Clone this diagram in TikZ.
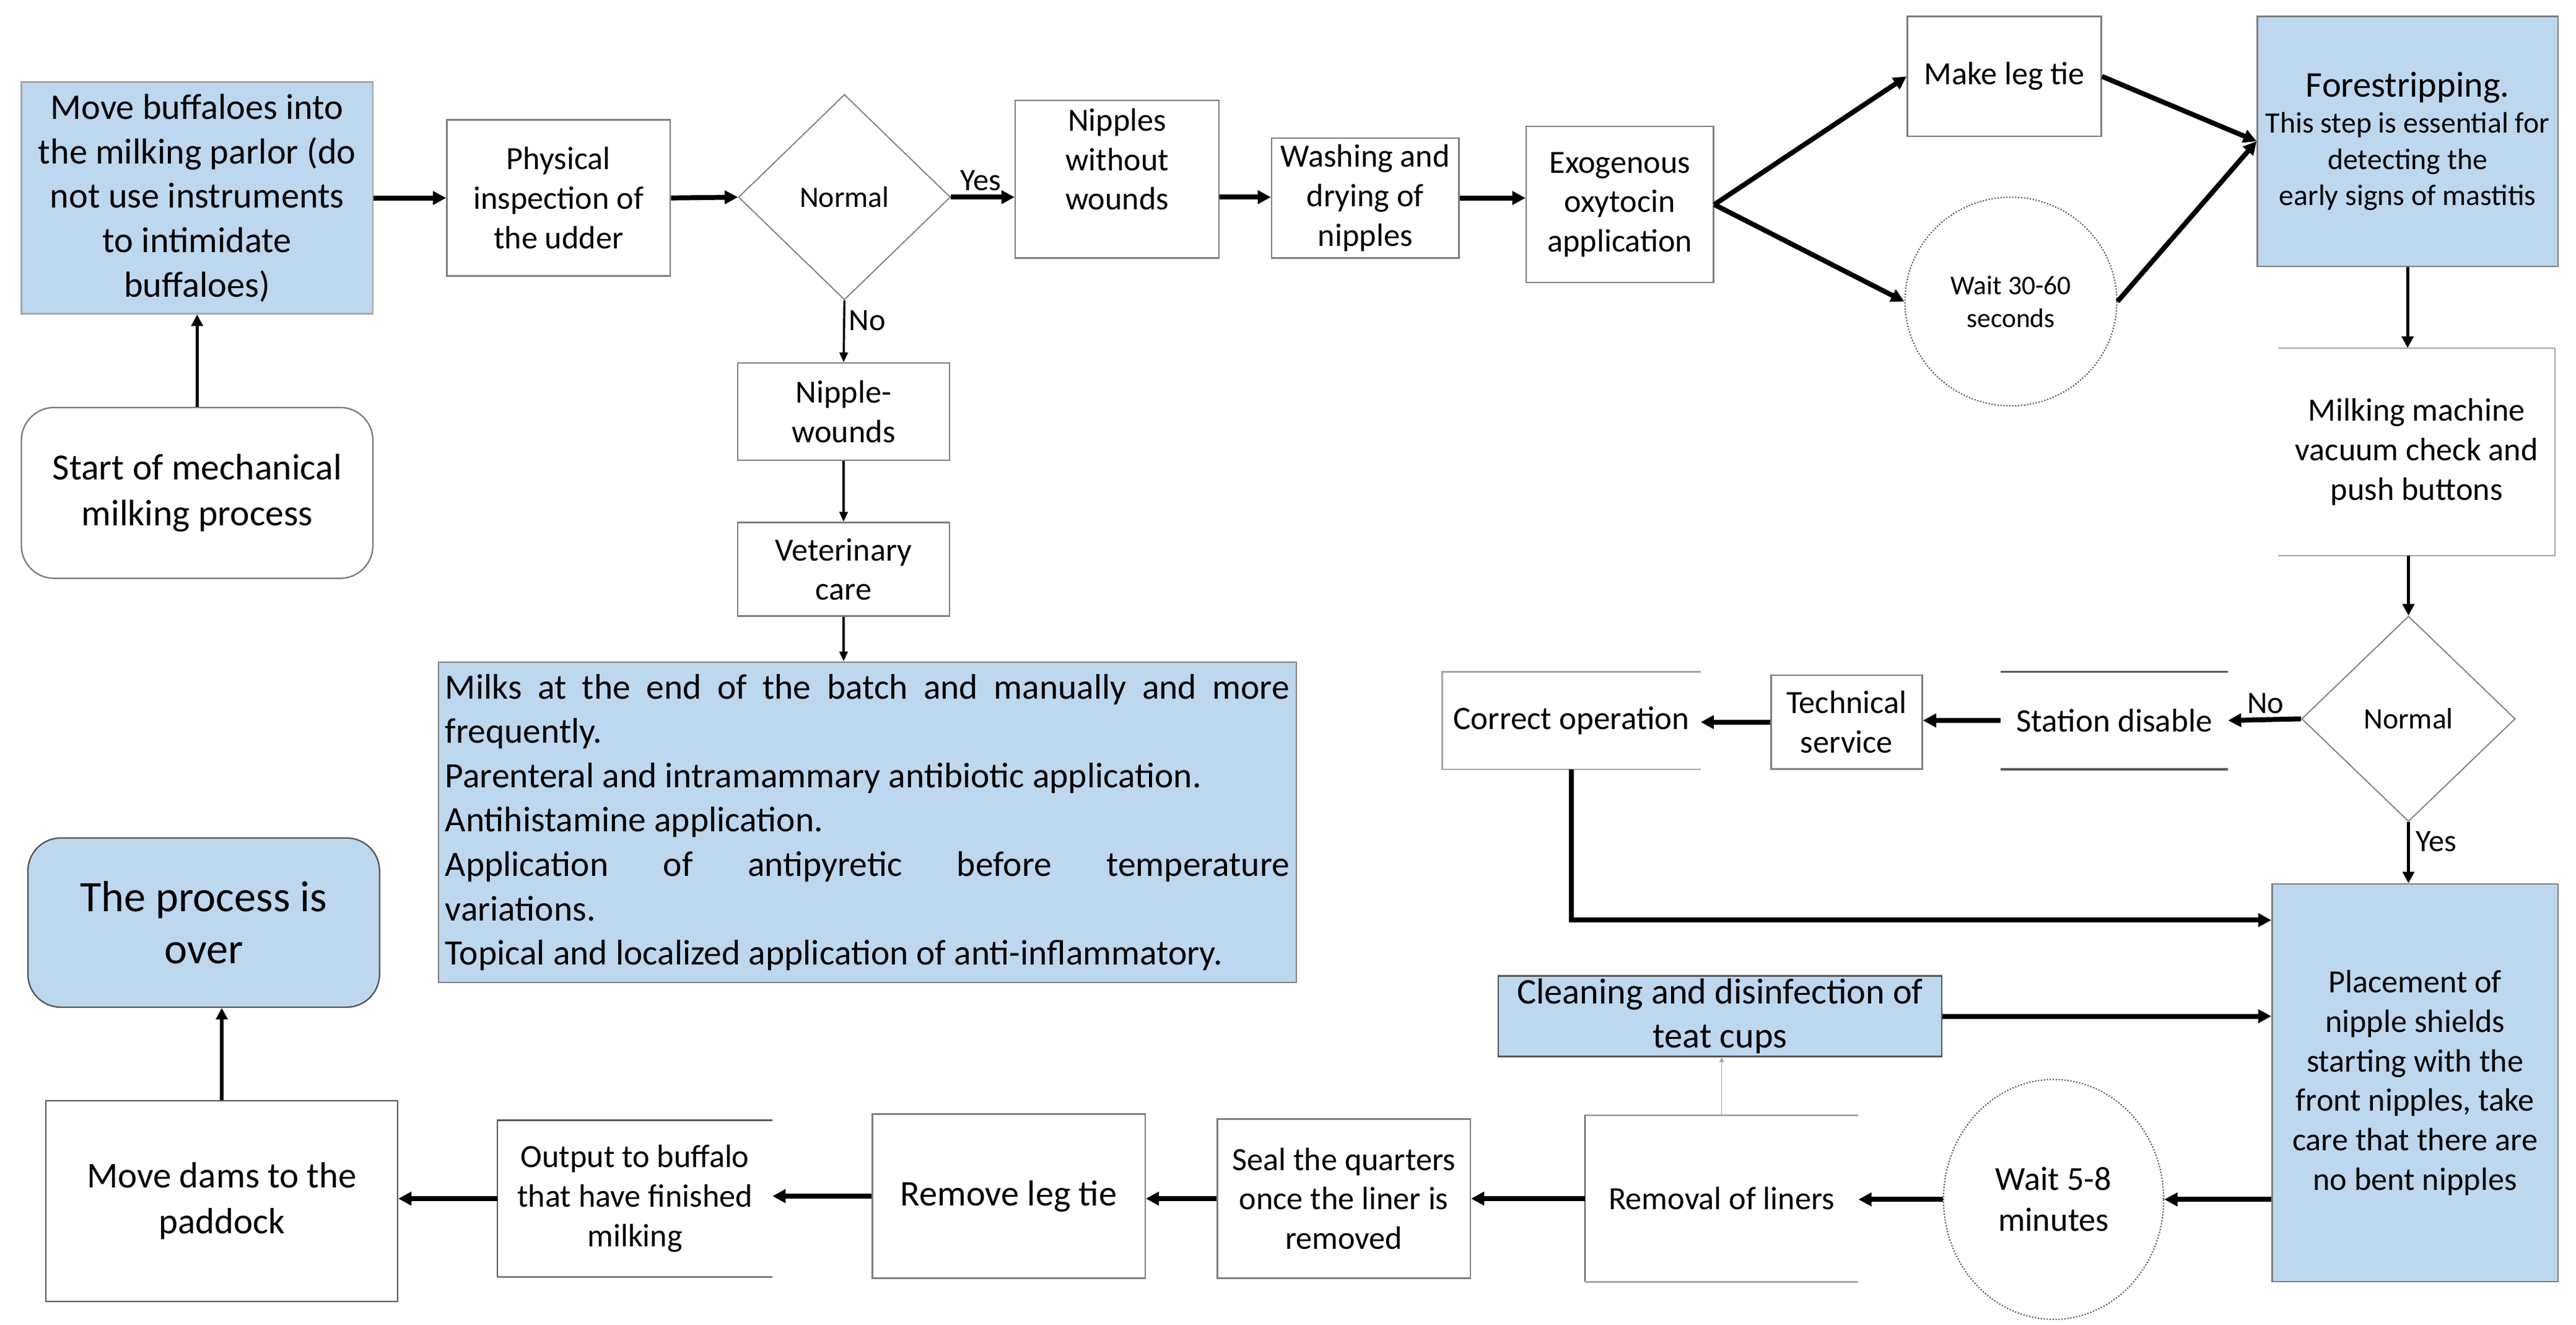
\documentclass[tikz,border=0pt]{standalone}
\usepackage{fontspec}
\setmainfont{Carlito}
\usetikzlibrary{arrows.meta,shapes.geometric,calc}
\definecolor{lblue}{HTML}{BDD7EE}
\definecolor{bdark}{HTML}{595959}
\definecolor{bmid}{HTML}{7F7F7F}
\definecolor{blight}{HTML}{A6A6A6}
\setlength{\parindent}{0pt}
\begin{document}
\begin{tikzpicture}[x=1pt,y=-1pt,
  box/.style={draw=bmid, line width=0.9pt, inner sep=0pt, align=center, font=\fontsize{19.7}{24}\selectfont},
  bare/.style={inner sep=0pt, align=center, font=\fontsize{19.7}{24}\selectfont},
  txt/.style={inner sep=0pt, align=center, font=\fontsize{19.7}{24}\selectfont},
  blue/.style={fill=lblue},
  dia/.style={diamond, draw=bmid, line width=0.7pt, inner sep=0pt, font=\fontsize{18}{22}\selectfont},
  oval/.style={ellipse, draw=bdark, densely dotted, line width=0.8pt, inner sep=0pt, align=center},
  edge/.style={line width=0.9pt},
  lbl/.style={inner sep=0pt, font=\fontsize{19}{23}\selectfont},
  ar/.style={-{Triangle[length=8pt,width=8pt]}, line width=3pt},
  arm/.style={-{Triangle[length=7pt,width=7pt]}, line width=2pt},
  art/.style={-{Triangle[length=6pt,width=5pt]}, line width=1.3pt},
  arh/.style={-{Triangle[length=3pt,width=3pt]}, line width=0.5pt, draw=blight}
]
\useasboundingbox (0,0) rectangle (1568,806.4);

% ---- nodes ----
\node[box,blue,draw=blight,minimum width=214pt,minimum height=141pt,font=\fontsize{22}{27}\selectfont] (move) at (120,120.5) {Move buffaloes into\\the milking parlor (do\\not use instruments\\to intimidate\\buffaloes)};
\node[box,rounded corners=20pt,minimum width=214pt,minimum height=104pt,font=\fontsize{22.5}{28}\selectfont] (start) at (120,300) {Start of mechanical\\milking process};
\node[box,minimum width=136pt,minimum height=95pt] (phys) at (340,120.5) {Physical\\inspection of\\the udder};
\node[dia,minimum width=129pt,minimum height=125pt] (d1) at (514,120) {Normal};
\node[box,minimum width=124pt,minimum height=96pt] (nww) at (680,109) {};
\node[txt] (nwwt) at (680,97) {Nipples\\without\\wounds};
\node[box,minimum width=114pt,minimum height=73pt] (wash) at (831,120.5) {Washing and\\drying of\\nipples};
\node[box,minimum width=114pt,minimum height=95pt] (exo) at (986,124.5) {Exogenous\\oxytocin\\application};
\node[box,minimum width=118pt,minimum height=73pt] (leg) at (1220,46.5) {Make leg tie};
\node[oval,minimum width=129pt,minimum height=127pt,font=\fontsize{16.4}{20}\selectfont] (w30) at (1224,183.5) {Wait 30-60\\seconds};
\node[box,blue,minimum width=183pt,minimum height=152pt,font=\fontsize{18}{22}\selectfont] (fore) at (1465.5,86) {{\fontsize{22}{24}\selectfont Forestripping.}\\This step is essential for\\detecting the\\early signs of mastitis};

\node[bare,minimum width=168pt,minimum height=126pt] (milk) at (1471,275) {Milking machine\\vacuum check and\\push buttons};
\draw[edge,draw=blight] (milk.north west) -- (milk.north east) -- (milk.south east) -- (milk.south west);

\node[dia,minimum width=130pt,minimum height=125pt] (d2) at (1466,437.5) {Normal};
\node[bare,minimum width=138pt,minimum height=59pt,font=\fontsize{20}{24}\selectfont] (sta) at (1287,438.5) {Station disable};
\draw[edge,draw=bdark,line width=1.3pt] (sta.north west) -- (sta.north east) (sta.south west) -- (sta.south east);
\node[box,minimum width=92pt,minimum height=57pt] (tech) at (1124,439.5) {Technical\\service};
\node[bare,minimum width=157pt,minimum height=59pt,font=\fontsize{20}{24}\selectfont] (cor) at (956.5,438.5) {Correct operation};
\draw[edge,draw=blight] (cor.north east) -- (cor.north west) -- (cor.south west) -- (cor.south east);

\node[box,blue,minimum width=174pt,minimum height=242pt] (place) at (1470,659) {Placement of\\nipple shields\\starting with the\\front nipples, take\\care that there are\\no bent nipples};
\node[box,blue,draw=bdark,minimum width=270pt,minimum height=49pt,font=\fontsize{22}{27}\selectfont] (clean) at (1047,618.5) {Cleaning and disinfection of\\teat cups};
\node[oval,minimum width=134pt,minimum height=146pt,font=\fontsize{20.5}{25}\selectfont] (w58) at (1250,730) {Wait 5-8\\minutes};
\node[bare,minimum width=166pt,minimum height=101pt] (rem) at (1048,729.5) {Removal of liners};
\draw[edge,draw=blight] (rem.north east) -- (rem.north west);
\draw[edge,draw=bdark] (rem.north west) -- (rem.south west);
\draw[edge,draw=blight] (rem.south west) -- (rem.south east);
\node[box,minimum width=154pt,minimum height=97pt] (seal) at (818,729.5) {Seal the quarters\\once the liner is\\removed};
\node[box,minimum width=166pt,minimum height=100pt,font=\fontsize{22}{26}\selectfont] (rlt) at (614,728) {Remove leg tie};
\node[bare,minimum width=167pt,minimum height=95pt] (out) at (386.5,729.5) {Output to buffalo\\that have finished\\milking};
\draw[edge,draw=bdark] (out.north east) -- (out.north west) -- (out.south west);
\draw[edge,draw=bmid] (out.south west) -- (out.south east);
\node[box,draw=bdark,minimum width=214pt,minimum height=122pt,font=\fontsize{22.2}{28}\selectfont] (dams) at (135,731) {Move dams to the\\paddock};
\node[box,blue,rounded corners=20pt,draw=bdark,minimum width=214pt,minimum height=103pt,font=\fontsize{26.5}{32}\selectfont] (over) at (124,561.5) {The process is\\over};

\node[box,minimum width=129pt,minimum height=59pt] (nw) at (513.5,250.5) {Nipple-\\wounds};
\node[box,minimum width=129pt,minimum height=57pt] (vet) at (513.5,346.5) {Veterinary\\care};
\node[box,blue,minimum width=522pt,minimum height=195pt,text width=514pt,align=justify,font=\fontsize{21.7}{27}\selectfont] (big) at (528,500.5) {\hyphenpenalty=10000 Milks at the end of the batch and manually and more\linebreak frequently.\par Parenteral and intramammary antibiotic application.\par Antihistamine application.\par Application of antipyretic before temperature\linebreak variations.\par Topical and localized application of anti-inflammatory.};

% ---- labels ----
\node[lbl] (yes1) at (597,110) {Yes};
\node[lbl] (no1) at (528,195) {No};
\node[lbl] (no2) at (1379,428) {No};
\node[lbl] (yes2) at (1483,512) {Yes};

% ---- connectors ----
\coordinate (cj) at (956.5,560);
\draw[arm] (start.north) -- (move.south);
\draw[ar] (move.east) -- (phys.west);
\draw[ar] (phys.east) -- (d1.west);
\draw[ar] (d1.east) -- (d1.east -| nww.west);
\draw[ar] (nww.east |- d1.east) -- (wash.west |- d1.east);
\draw[ar] (wash.east) -- (exo.west |- wash.east);
\draw[ar] (exo.east) -- (leg.west);
\draw[ar] (exo.east) -- (w30.west);
\draw[ar] (leg.east) -- (fore.west);
\draw[ar] (w30.east) -- (fore.west);
\draw[arm] (fore.south) -- (fore.south |- milk.north);
\draw[arm] (milk.south -| d2.north) -- (d2.north);
\draw[ar] (d2.west) -- (sta.east);
\draw[ar] (sta.west) -- (tech.east |- sta.west);
\draw[ar] (tech.west) -- (cor.east |- tech.west);
\draw[ar] (cor.south) -- (cj) -- (cj -| place.west);
\draw[arm] (d2.south) -- (d2.south |- place.north);
\draw[ar] (clean.east) -- (clean.east -| place.west);
\draw[ar] (place.west |- w58.east) -- (w58.east);
\draw[ar] (w58.west) -- (w58.west -| rem.east);
\draw[arh] (rem.north) -- (rem.north |- clean.south);
\draw[ar] (rem.west) -- (seal.east |- rem.west);
\draw[ar] (seal.west) -- (rlt.east |- seal.west);
\draw[ar] (rlt.west) -- (out.east |- rlt.west);
\draw[ar] (out.west) -- (dams.east |- out.west);
\draw[arm] (dams.north) -- (dams.north |- over.south);
\draw[art] (d1.south) -- (nw.north);
\draw[art] (nw.south) -- (vet.north);
\draw[art] (vet.south) -- (vet.south |- big.north);
\end{tikzpicture}
\end{document}
